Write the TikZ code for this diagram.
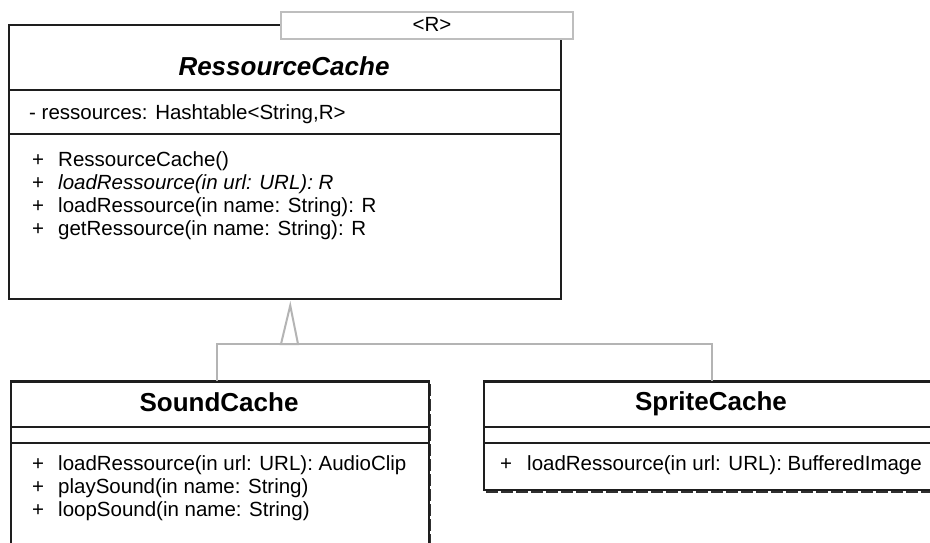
\documentclass[tikz,border=0pt]{standalone}
\usepackage{fontspec}
\setmainfont{Liberation Sans}
\usetikzlibrary{calc}
\definecolor{edgecol}{HTML}{1E1E1E}
\definecolor{conncol}{HTML}{B4B4B4}
\definecolor{tplcol}{HTML}{BEBEBE}
\definecolor{shadowcol}{HTML}{303030}
\tikzset{
  classbox/.style={draw=edgecol, line width=1.5pt, inner sep=0pt, anchor=north west, fill=white},
  sepline/.style={draw=edgecol, line width=1.5pt},
  topline/.style={draw=edgecol, line width=2.6pt},
  shadowline/.style={draw=shadowcol, line width=1.6pt, dash pattern=on 12pt off 3pt},
  memb/.style={anchor=base west, inner sep=0pt, font=\fontsize{20.5}{24}\selectfont},
  plusmark/.style={anchor=base, inner sep=0pt, font=\fontsize{20.5}{24}\selectfont},
  absname/.style={anchor=base, inner sep=0pt, font=\fontsize{26}{30}\selectfont\bfseries\itshape},
  clsname/.style={anchor=base, inner sep=0pt, font=\fontsize{26}{30}\selectfont\bfseries},
  conn/.style={draw=conncol, line width=2pt},
  tplbox/.style={draw=tplcol, line width=1.5pt, fill=white, inner sep=0pt, anchor=north west}
}
\begin{document}
\begin{tikzpicture}[x=1pt,y=-1pt]
\useasboundingbox (0,0) rectangle (930,542);
\fill[white] (0,0) rectangle (930,542);
\begin{scope}
\clip (0,0) rectangle (930,542);

% ---------- RessourceCache ----------
\node[classbox, minimum width=552pt, minimum height=274pt] (rc) at (8,24) {};
\draw[sepline] (8,90) -- (560,90);
\draw[sepline] (8,134) -- (560,134);
\node[tplbox, minimum width=292pt, minimum height=27pt] (tpl) at (280,11) {};
\node[memb, anchor=base] (tpltext) at (432,31.5) {<R>};
\node[absname] (rctitle) at (284,75.5) {RessourceCache};
\node[memb] (rcattr) at (29,119) {- ressources: Hashtable<String,R>};
\node[plusmark] (rcp1) at (38,166) {+};
\node[memb] (rcm1) at (58,166) {RessourceCache()};
\node[plusmark] (rcp2) at (38,189) {+};
\node[memb] (rcm2) at (58,189) {\itshape loadRessource(in url: URL): R};
\node[plusmark] (rcp3) at (38,212) {+};
\node[memb] (rcm3) at (58,212) {loadRessource(in name: String): R};
\node[plusmark] (rcp4) at (38,235) {+};
\node[memb] (rcm4) at (58,235) {getRessource(in name: String): R};

% ---------- SoundCache ----------
\draw[shadowline] (430.5,384) -- (430.5,560);
\node[classbox, minimum width=418pt, minimum height=190pt] (sound) at (10,381) {};
\draw[topline] (sound.north west) -- (sound.north east);
\draw[sepline] (10,427) -- (428,427);
\draw[sepline] (10,443) -- (428,443);
\node[clsname] (soundtitle) at (219,411) {SoundCache};
\node[plusmark] (sp1) at (38,470) {+};
\node[memb] (sm1) at (58,470) {loadRessource(in url: URL): AudioClip};
\node[plusmark] (sp2) at (38,493) {+};
\node[memb] (sm2) at (58,493) {playSound(in name: String)};
\node[plusmark] (sp3) at (38,516) {+};
\node[memb] (sm3) at (58,516) {loopSound(in name: String)};

% ---------- SpriteCache ----------
\draw[shadowline] (486,492) -- (945,492);
\node[classbox, minimum width=456pt, minimum height=108pt] (sprite) at (483,381) {};
\draw[topline] (sprite.north west) -- (sprite.north east);
\draw[sepline] (483,427) -- (939,427);
\draw[sepline] (483,443) -- (939,443);
\node[clsname] (spritetitle) at (711,410) {SpriteCache};
\node[plusmark] (pp1) at (506,470) {+};
\node[memb] (pm1) at (527,470) {loadRessource(in url: URL): BufferedImage};

% ---------- generalization ----------
\coordinate (junc) at (289.5,344);
\coordinate (apex) at ($(rc.south)+(5.5,6)$);
\coordinate (soundtop) at ($(sound.north)+(-3,0)$);
\draw[conn, line join=miter] (soundtop) |- (junc) -| (sprite.north);
\draw[conn, fill=white, line join=miter] ($(junc)+(-8.5,0)$) -- (apex) -- ($(junc)+(8.5,0)$) -- cycle;
\end{scope}
\end{tikzpicture}
\end{document}
